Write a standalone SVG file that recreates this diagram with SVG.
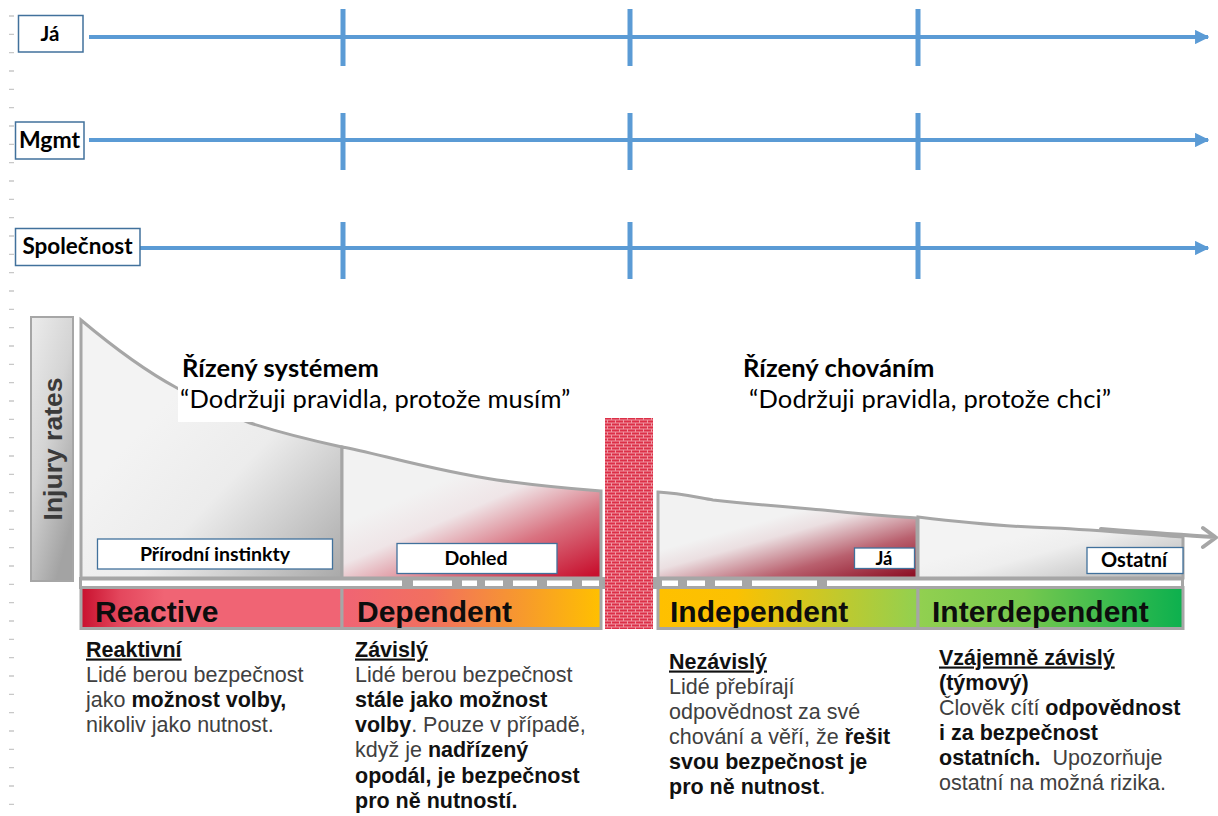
<svg xmlns="http://www.w3.org/2000/svg" width="1218" height="816" viewBox="0 0 1218 816">
<style>
.tl{stroke:#5B9BD5;stroke-width:4;fill:none}
.tk{stroke:#5B9BD5;stroke-width:5}
.lbox{fill:#fff;stroke:#41719C;stroke-width:1.5}
.ltxt{font-family:Lato,"Liberation Sans",sans-serif;font-weight:bold;fill:#000;text-anchor:middle}
.pan{stroke:#a6a6a6;stroke-width:3}
.bar{stroke:#a6a6a6;stroke-width:3}
.btxt{font-family:"Liberation Sans",Arial,sans-serif;font-weight:bold;font-size:30px;fill:#0d0d0d}
.ttl{font-family:Lato,"Liberation Sans",sans-serif;fill:#000}
.desc{font-family:"Liberation Sans",Arial,sans-serif;font-size:21.5px;fill:#404040}
.b{font-weight:bold;fill:#111}
</style>
<defs>
<marker id="ah" viewBox="0 0 10 10" refX="9" refY="5" markerWidth="3.6" markerHeight="3.6" orient="auto" markerUnits="strokeWidth">
<path d="M0,0 L10,5 L0,10 Z" fill="#5B9BD5"/>
</marker>
<linearGradient id="gInj" x1="0" y1="0" x2="0.6" y2="1">
<stop offset="0" stop-color="#ececec"/><stop offset="0.5" stop-color="#d4d4d4"/><stop offset="1" stop-color="#a3a3a3"/>
</linearGradient>
<linearGradient id="gP1" x1="0.3" y1="0.35" x2="1" y2="1">
<stop offset="0" stop-color="#f3f3f3"/><stop offset="0.4" stop-color="#ececec"/><stop offset="1" stop-color="#a9a9a9"/>
</linearGradient>
<linearGradient id="gP2" x1="0.4" y1="0.25" x2="1" y2="0.95">
<stop offset="0" stop-color="#f2f2f2"/><stop offset="0.25" stop-color="#efe5e7"/><stop offset="0.6" stop-color="#d97381"/><stop offset="1" stop-color="#c8102e"/>
</linearGradient>
<linearGradient id="gP3" x1="0.45" y1="0.3" x2="1" y2="0.95">
<stop offset="0" stop-color="#f2f2f2"/><stop offset="0.2" stop-color="#ebdfe1"/><stop offset="0.6" stop-color="#b9606e"/><stop offset="1" stop-color="#8e1227"/>
</linearGradient>
<linearGradient id="gP4" x1="0.4" y1="0.3" x2="1" y2="0.8">
<stop offset="0" stop-color="#f3f3f3"/><stop offset="0.3" stop-color="#eeeeee"/><stop offset="1" stop-color="#bcbcbc"/>
</linearGradient>
<linearGradient id="gB1" x1="0" y1="0" x2="1" y2="0">
<stop offset="0" stop-color="#c8102e"/><stop offset="0.15" stop-color="#e4475d"/><stop offset="0.32" stop-color="#f06474"/><stop offset="1" stop-color="#f06474"/>
</linearGradient>
<linearGradient id="gB2" x1="0" y1="0" x2="1" y2="0">
<stop offset="0" stop-color="#f06474"/><stop offset="0.35" stop-color="#f2705e"/><stop offset="0.7" stop-color="#f79a2c"/><stop offset="1" stop-color="#ffc000"/>
</linearGradient>
<linearGradient id="gB3" x1="0" y1="0" x2="1" y2="0">
<stop offset="0" stop-color="#ffc000"/><stop offset="0.3" stop-color="#fbc102"/><stop offset="0.65" stop-color="#c8c828"/><stop offset="1" stop-color="#92d050"/>
</linearGradient>
<linearGradient id="gB4" x1="0" y1="0" x2="1" y2="0">
<stop offset="0" stop-color="#92d050"/><stop offset="0.4" stop-color="#76c84e"/><stop offset="1" stop-color="#0cb04e"/>
</linearGradient>
<pattern id="brick" width="8" height="6" patternUnits="userSpaceOnUse">
<rect width="8" height="6" fill="#f19aa6"/>
<rect x="0" y="0.5" width="7" height="2" fill="#dc2f47"/>
<rect x="-4" y="3.5" width="7" height="2" fill="#dc2f47"/>
<rect x="4" y="3.5" width="7" height="2" fill="#dc2f47"/>
</pattern>
</defs>
<rect width="1218" height="816" fill="#fff"/>
<path d="M9 16h5M9 34.3h5M9 52.7h5M9 71h5M9 89.3h5M9 107.7h5M9 126h5M9 144.3h5M9 162.7h5M9 181h5M9 199.3h5M9 217.7h5M9 236h5M9 254.3h5M9 272.7h5M9 291h5M9 309.3h5M9 327.7h5M9 346h5M9 364.3h5M9 382.7h5M9 401h5M9 419.3h5M9 437.7h5M9 456h5M9 474.3h5M9 492.7h5M9 511h5M9 529.3h5M9 547.7h5M9 566h5M9 584.3h5M9 602.7h5M9 621h5M9 639.3h5M9 657.7h5M9 676h5M9 694.3h5M9 712.7h5M9 731h5M9 749.3h5M9 767.7h5M9 786h5M9 804.3h5" stroke="#c8c8c8" stroke-width="1.3"/>
<g id="connectors">
<line class="tl" x1="89" y1="37" x2="1208" y2="37" marker-end="url(#ah)"/>
<line class="tl" x1="89" y1="140" x2="1208" y2="140" marker-end="url(#ah)"/>
<line class="tl" x1="140" y1="248" x2="1208" y2="248" marker-end="url(#ah)"/>
<path class="tk" d="M343 9v57M630 9v57M918 9v57M343 113v57M630 113v57M918 113v57M343 222v57M630 222v57M918 222v57"/>
</g>
<g id="lbl-ja"><rect class="lbox" x="18.5" y="15.5" width="64.5" height="36.5"/><text class="ltxt" x="50" y="41" font-size="20.5">Já</text></g>
<g id="lbl-mgmt"><rect class="lbox" x="15.5" y="122" width="68.5" height="37"/><text class="ltxt" x="49.5" y="148" font-size="23">Mgmt</text></g>
<g id="lbl-spol"><rect class="lbox" x="15.5" y="228.5" width="124.5" height="37"/><text class="ltxt" x="77.5" y="254" font-size="22.5">Společnost</text></g>
<g id="injury">
<rect x="31" y="317" width="42" height="264" fill="url(#gInj)" stroke="#a6a6a6" stroke-width="2"/>
<text transform="translate(62,449) rotate(-90)" text-anchor="middle" font-family="'Liberation Sans',Arial,sans-serif" font-weight="bold" font-size="26.5" fill="#3a3a3a">Injury rates</text>
</g>
<g id="strip">
<rect x="79" y="577" width="1105" height="12" fill="#a6a6a6"/>
<path d="M82 580.5h320v6h-320zM413 580.5h39v6h-39zM462 580.5h15v6h-15zM485 580.5h18v6h-18zM513 580.5h24v6h-24zM547 580.5h25v6h-25zM582 580.5h17v6h-17zM662 580.5h16v6h-16zM687 580.5h18v6h-18zM715 580.5h27v6h-27zM752 580.5h65v6h-65zM827 580.5h354v6h-354z" fill="#fff"/>
</g>
<g id="panel-reactive">
<path class="pan" fill="url(#gP1)" d="M81,320 C100,336 140,368 177,388 C205,403 228,415 250,423 C275,431 310,440 342,447 L342,578 L81,578 Z"/>
<rect x="97.5" y="539" width="235" height="30" fill="#fff" stroke="#41719C" stroke-width="1.3"/>
<text class="ltxt" x="215" y="561" font-size="19.5">Přírodní instinkty</text>
</g>
<g id="panel-dependent">
<path class="pan" fill="url(#gP2)" d="M342,447 C372,452 430,470 497,480 C540,486 575,489 601,491 L601,578 L342,578 Z"/>
<rect x="397" y="543.5" width="160" height="30" fill="#fff" stroke="#41719C" stroke-width="1.3"/>
<text class="ltxt" x="476" y="565" font-size="19.5">Dohled</text>
</g>
<g id="panel-independent">
<path class="pan" fill="url(#gP3)" d="M658,492 C680,493 700,498 713,500 C760,505 800,508 823,510 C860,514 900,517 917,518 L917,578 L658,578 Z"/>
<rect x="854.5" y="548" width="60" height="20.5" fill="#fff" stroke="#41719C" stroke-width="1.3"/>
<text class="ltxt" x="884" y="565" font-size="18.5">Já</text>
</g>
<g id="panel-interdependent">
<path class="pan" fill="url(#gP4)" d="M918,517 C960,522 1010,527 1053,528 C1100,530 1150,535 1183,537 L1183,578 L918,578 Z"/>
<rect x="1087" y="547.5" width="96" height="26" fill="#fff" stroke="#41719C" stroke-width="1.3"/>
<text class="ltxt" x="1134" y="567" font-size="20">Ostatní</text>
<path d="M1101,529 C1140,532 1180,535 1215,537 M1203,528 L1216,537.5 L1203,547" fill="none" stroke="#a6a6a6" stroke-width="4" stroke-linecap="round" stroke-linejoin="round"/>
</g>
<g id="title-left">
<rect x="178" y="352" width="412" height="70" fill="#fff"/>
<text class="ttl" x="182" y="376.5" font-size="25.5" font-weight="bold" letter-spacing="0.1">Řízený systémem</text>
<text class="ttl" x="180" y="407.5" font-size="25.5" fill="#1a1a1a" letter-spacing="0.15">“Dodržuji pravidla, protože musím”</text>
</g>
<g id="title-right">
<text class="ttl" x="743" y="376.5" font-size="25.5" font-weight="bold" letter-spacing="0.1">Řízený chováním</text>
<text class="ttl" x="749" y="407.5" font-size="25.5" fill="#1a1a1a" letter-spacing="0.15">“Dodržuji pravidla, protože chci”</text>
</g>
<g id="bar-reactive"><rect class="bar" x="81" y="587.5" width="261" height="41" fill="url(#gB1)"/><text class="btxt" x="95" y="622">Reactive</text></g>
<g id="bar-dependent"><rect class="bar" x="342" y="587.5" width="259" height="41" fill="url(#gB2)"/><text class="btxt" x="357" y="622">Dependent</text></g>
<g id="bar-independent"><rect class="bar" x="658" y="587.5" width="260" height="41" fill="url(#gB3)"/><text class="btxt" x="670" y="622">Independent</text></g>
<g id="bar-interdependent"><rect class="bar" x="918" y="587.5" width="265" height="41" fill="url(#gB4)"/><text class="btxt" x="932" y="622">Interdependent</text></g>
<g id="wall"><rect x="605" y="418" width="48" height="211" fill="url(#brick)"/></g>
<g id="desc-reactive">
<text class="desc"><tspan x="86" y="656.5" class="b" text-decoration="underline">Reaktivní</tspan><tspan x="86" y="681.5">Lidé berou bezpečnost</tspan><tspan x="86" y="706.5">jako <tspan class="b">možnost volby,</tspan></tspan><tspan x="86" y="731.5">nikoliv jako nutnost.</tspan></text>
</g>
<g id="desc-dependent">
<text class="desc"><tspan x="355" y="656.5" class="b" text-decoration="underline">Závislý</tspan><tspan x="355" y="681.7">Lidé berou bezpečnost</tspan><tspan x="355" y="706.9" class="b">stále jako možnost</tspan><tspan x="355" y="732.1"><tspan class="b">volby</tspan>. Pouze v případě,</tspan><tspan x="355" y="757.3">když je <tspan class="b">nadřízený</tspan></tspan><tspan x="355" y="782.5" class="b">opodál, je bezpečnost</tspan><tspan x="355" y="807.7" class="b">pro ně nutností.</tspan></text>
</g>
<g id="desc-independent">
<text class="desc"><tspan x="669" y="668.5" class="b" text-decoration="underline">Nezávislý</tspan><tspan x="669" y="693.5">Lidé přebírají</tspan><tspan x="669" y="718.5">odpovědnost za své</tspan><tspan x="669" y="743.5">chování a věří, že <tspan class="b">řešit</tspan></tspan><tspan x="669" y="768.5" class="b">svou bezpečnost je</tspan><tspan x="669" y="793.5"><tspan class="b">pro ně nutnost</tspan>.</tspan></text>
</g>
<g id="desc-interdependent">
<text class="desc"><tspan x="939" y="664.5" class="b" text-decoration="underline">Vzájemně závislý</tspan><tspan x="939" y="689.5" class="b">(týmový)</tspan><tspan x="939" y="714.5">Člověk cítí <tspan class="b">odpovědnost</tspan></tspan><tspan x="939" y="739.5" class="b">i za bezpečnost</tspan><tspan x="939" y="764.5"><tspan class="b">ostatních.</tspan>&#160; Upozorňuje</tspan><tspan x="939" y="789.5">ostatní na možná rizika.</tspan></text>
</g>
</svg>
